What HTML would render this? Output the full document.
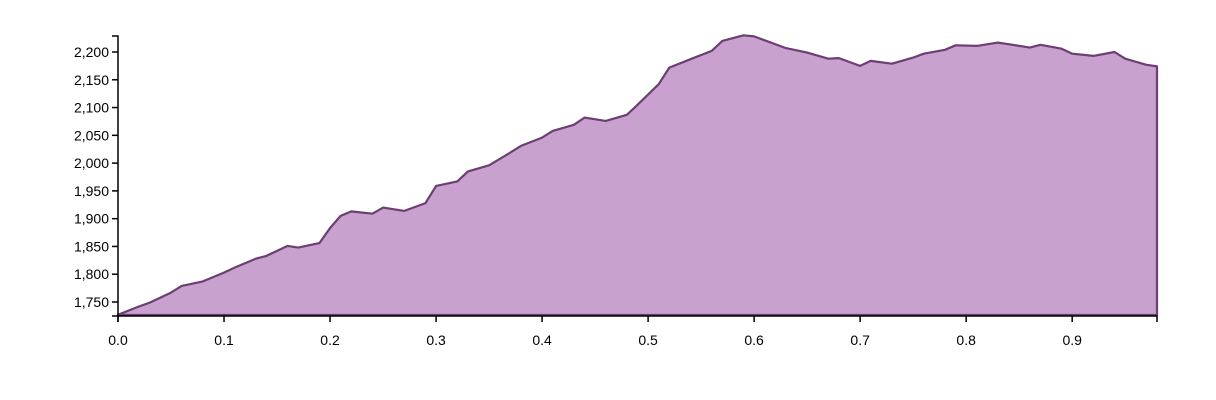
<!DOCTYPE html>
<html><head><meta charset="utf-8"><style>
html,body{margin:0;padding:0;background:#fff;}
svg{display:block;font-family:"Liberation Sans",Arial,sans-serif;}
</style></head><body>
<svg id="chart" width="1216" height="400"></svg>
<script>
const xValues=[0,0.02,0.03,0.05,0.06,0.08,0.10,0.11,0.13,0.14,0.16,0.17,0.19,0.20,0.21,0.22,0.24,0.25,0.27,0.29,0.30,0.32,0.33,0.35,0.37,0.38,0.40,0.41,0.43,0.44,0.46,0.48,0.49,0.51,0.52,0.54,0.56,0.57,0.59,0.60,0.63,0.65,0.67,0.68,0.70,0.71,0.73,0.75,0.76,0.78,0.79,0.81,0.83,0.84,0.86,0.87,0.89,0.90,0.92,0.94,0.95,0.97,0.98];
const yValues=[1727,1742,1749,1767,1779,1787,1803,1812,1828,1833,1851,1848,1856,1883,1905,1913,1909,1920,1914,1928,1959,1967,1985,1996,2019,2031,2046,2058,2069,2082,2076,2087,2105,2142,2172,2187,2202,2220,2230,2228,2207,2199,2188,2189,2175,2184,2179,2190,2197,2204,2212,2211,2217,2214,2208,2213,2206,2197,2193,2200,2188,2177,2174];
const xTicks=[0,0.1,0.2,0.3,0.4,0.5,0.6,0.7,0.8,0.9];
const xTickLabels=["0.0","0.1","0.2","0.3","0.4","0.5","0.6","0.7","0.8","0.9"];
const yTicks=[1750,1800,1850,1900,1950,2000,2050,2100,2150,2200];
const yTickLabels=["1,750","1,800","1,850","1,900","1,950","2,000","2,050","2,100","2,150","2,200"];

const NS="http://www.w3.org/2000/svg";
const svg=document.getElementById('chart');
const x=v=>118+(v-0)*(1157-118)/0.98;
const y=v=>302-(v-1750)*(250/450);
const y0=316, yTop=36;
function mk(t,a){const e=document.createElementNS(NS,t);for(const k in a)e.setAttribute(k,a[k]);svg.appendChild(e);return e;}

let d="M"+x(xValues[0])+","+y0;
for(let i=0;i<xValues.length;i++)d+="L"+x(xValues[i]).toFixed(1)+","+y(yValues[i]).toFixed(1);
d+="L"+x(xValues[xValues.length-1])+","+(y0-1)+"L"+x(xValues[0])+","+(y0-1)+"Z";
const area=mk('path',{d:d,fill:'#c9a1cf',stroke:'#6b3f72','stroke-width':2.2,'stroke-linejoin':'round'});



// y axis
const ya=mk('path',{d:"M112,"+yTop+"H118V"+y0+"H112",fill:'none',stroke:'#000','stroke-width':1.5});


for(let i=0;i<yTicks.length;i++){
  const yy=y(yTicks[i]);
  const tk=mk('line',{x1:112,x2:118,y1:yy,y2:yy,stroke:'#000','stroke-width':1.5});
  
  
  const t=mk('text',{x:109,y:yy+5,'text-anchor':'end','font-size':14,fill:'#000'});
  t.textContent=yTickLabels[i];
  
  
}
// x axis
const xa=mk('path',{d:"M118,"+(y0+6)+"V"+y0+"H1157V"+(y0+6),fill:'none',stroke:'#000','stroke-width':1.5});


for(let i=0;i<xTicks.length;i++){
  const xx=x(xTicks[i]);
  const tk=mk('line',{x1:xx,x2:xx,y1:y0,y2:y0+6,stroke:'#000','stroke-width':1.5});
  
  
  const t=mk('text',{x:xx,y:y0+29,'text-anchor':'middle','font-size':14,fill:'#000'});
  t.textContent=xTickLabels[i];
  
  
}
</script>
</body></html>
